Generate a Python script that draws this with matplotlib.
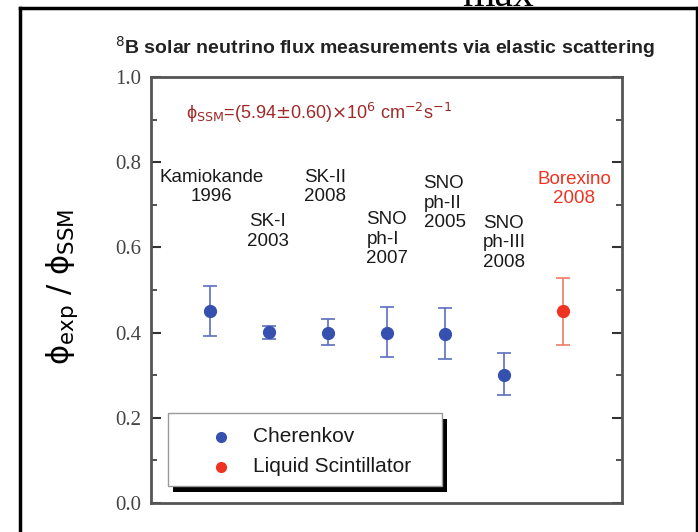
import matplotlib
matplotlib.use("Agg")
from matplotlib import pyplot as plt
from matplotlib.lines import Line2D
from matplotlib.patches import Rectangle

# measurements (phi_exp / phi_SSM)
experiments = ["Kamiokande\n1996", "SK-I\n2003", "SK-II\n2008", "SNO\nph-I\n2007",
               "SNO\nph-II\n2005", "SNO\nph-III\n2008", "Borexino\n2008"]
ratio = [0.45, 0.401, 0.40, 0.40, 0.397, 0.301, 0.45]
err_up = [0.06, 0.014, 0.031, 0.06, 0.061, 0.052, 0.079]
err_down = [0.059, 0.015, 0.029, 0.057, 0.059, 0.047, 0.08]
detector = ["cherenkov"] * 6 + ["scintillator"]
legend_labels = ["Cherenkov", "Liquid Scintillator"]
yticks = [0.0, 0.2, 0.4, 0.6, 0.8, 1.0]

# label placement (x, y, alignment) for each experiment text
label_x = [1.03, 1.98, 2.95, 3.66, 4.63, 5.64, 7.19]
label_y = [0.785, 0.68, 0.785, 0.685, 0.77, 0.677, 0.78]
label_ha = ["center", "center", "center", "left", "left", "left", "center"]

blue = "#3550ae"
blue_err = "#5a70c0"
red = "#ee3322"
red_err = "#f07a6a"
W, H = 698, 532

fig = plt.figure(figsize=(W / 100, H / 100), dpi=100)
fig.patch.set_facecolor("white")

# slide frame
frame_kw = dict(color="black", lw=2.5, transform=fig.transFigure)
fig.add_artist(Line2D([20 / W, 1], [1 - 8 / H, 1 - 8 / H], **frame_kw))
fig.add_artist(Line2D([20 / W, 20 / W], [0, 1 - 8 / H], **frame_kw))
fig.add_artist(Line2D([697 / W, 697 / W], [0, 1 - 8 / H], **frame_kw))
fig.text(498 / W, 1 - 6 / H, "max", ha="center", va="baseline", fontsize=30,
         family="Liberation Serif")

ax = fig.add_axes([151 / W, 29 / H, 471 / W, 426 / H])

for i, (v, lo, hi, kind) in enumerate(zip(ratio, err_down, err_up, detector)):
    x = i + 1
    c, ce = (blue, blue_err) if kind == "cherenkov" else (red, red_err)
    ax.errorbar(x, v, yerr=[[lo], [hi]], fmt="none", ecolor=ce, elinewidth=1.2,
                capsize=5, capthick=1.2)
    ax.plot(x, v, "o", color=c, ms=8.5, zorder=3)

for i, name in enumerate(experiments):
    col = red if detector[i] == "scintillator" else "#1a1a1a"
    ax.text(label_x[i], label_y[i], name, ha=label_ha[i], va="top", fontsize=13.5,
            color=col, family="Liberation Sans", linespacing=1.2)

ax.text(0.6, 0.915, "ϕ$_{\\rm SSM}$=(5.94$\\pm$0.60)$\\times$10$^{6}$ cm$^{-2}$s$^{-1}$",
        fontsize=13, color="#a02828", va="center", family=["Liberation Sans", "DejaVu Sans"])

ax.set_xlim(0, 8)
ax.set_ylim(0, 1.0)
ax.set_xticks([])
ax.set_yticks(yticks)
ax.set_yticklabels([f"{t:.1f}" for t in yticks], family="Liberation Serif",
                   fontsize=15, color="#444444")
ax.set_yticks([0.1, 0.3, 0.5, 0.7, 0.9], minor=True)
ax.tick_params(axis="y", which="major", direction="in", length=7, width=1.5,
               right=True, pad=7, color="#333333")
ax.tick_params(axis="y", which="minor", direction="in", length=4, width=1.2,
               right=True, color="#333333")
for s in ax.spines.values():
    s.set_color("#555555")
    s.set_linewidth(2)

# legend box drawn by hand (box with black drop shadow)
ax.add_patch(Rectangle((22 / 471, 11 / 426), 274 / 471, 73 / 426, transform=ax.transAxes,
                       facecolor="black", edgecolor="none", zorder=4))
ax.add_patch(Rectangle((17 / 471, 17 / 426), 274 / 471, 73 / 426, transform=ax.transAxes,
                       facecolor="white", edgecolor="#999999", lw=1, zorder=5))
for row, (lab, c) in enumerate(zip(legend_labels, [blue, red])):
    yy = (66 - 30 * row) / 426
    ax.plot(70 / 471, yy, "o", color=c, ms=7, transform=ax.transAxes, zorder=6,
            clip_on=False)
    ax.text(102 / 471, yy, lab, transform=ax.transAxes, va="center", ha="left",
            fontsize=15, family="Liberation Sans", color="#1a1a1a", zorder=6)

fig.text(385 / W, 1 - 47 / H, r"$^{8}$B solar neutrino flux measurements via elastic scattering",
         ha="center", va="center", fontsize=14, fontweight="bold", family="Liberation Sans",
         color="#222222")
fig.text(62 / W, 1 - 287 / H, "ϕ$_{\\rm exp}$ / ϕ$_{\\rm SSM}$", rotation=90,
         ha="center", va="center", fontsize=22, family=["DejaVu Sans"])

fig.savefig("out.png", dpi=100)
